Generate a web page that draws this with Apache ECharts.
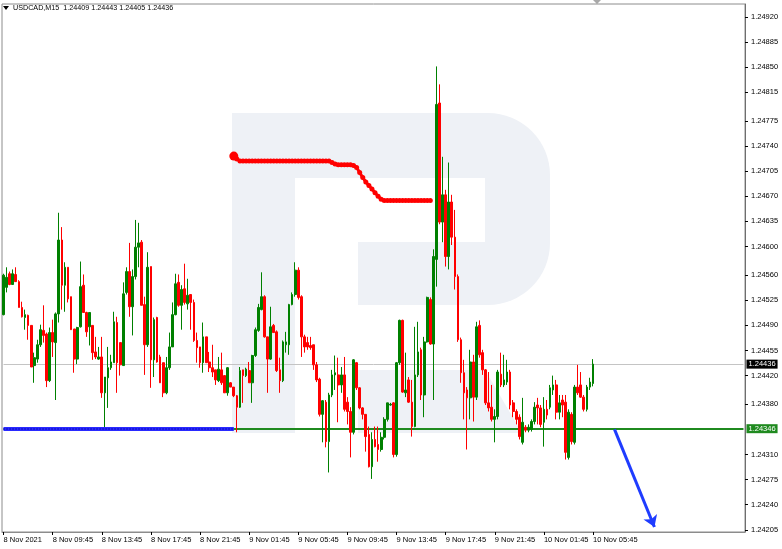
<!DOCTYPE html>
<html><head><meta charset="utf-8">
<script src="https://cdn.jsdelivr.net/npm/echarts@6/dist/echarts.min.js"></script>
<style>html,body{margin:0;padding:0;background:#fff}#c{width:782px;height:549px}</style>
</head><body><div id="c"></div>
<script>
// ---- data (USDCAD M15, 8 Nov 2021 05:45 .. 10 Nov 2021 05:45) ----
const opens = [1.24505,1.24543,1.24562,1.24547,1.24561,1.24551,1.24515,1.24501,1.24504,1.24490,1.24434,1.24443,1.24463,1.24483,1.24478,1.24413,1.24480,1.24466,1.24506,1.24609,
1.24546,1.24571,1.24530,1.24485,1.24443,1.24488,1.24546,1.24508,1.24488,1.24490,1.24453,1.24443,1.24446,1.24396,1.24417,1.24431,1.24438,1.24494,1.24466,1.24434,
1.24536,1.24565,1.24516,1.24558,1.24599,1.24606,1.24519,1.24463,1.24572,1.24442,1.24501,1.24446,1.24438,1.24396,1.24431,1.24460,1.24505,1.24550,1.24518,1.24541,
1.24520,1.24533,1.24522,1.24469,1.24460,1.24438,1.24474,1.24439,1.24431,1.24428,1.24413,1.24428,1.24420,1.24396,1.24410,1.24404,1.24392,1.24376,1.24428,1.24420,
1.24427,1.24410,1.24448,1.24483,1.24512,1.24530,1.24474,1.24443,1.24490,1.24481,1.24428,1.24413,1.24463,1.24463,1.24519,1.24533,1.24567,1.24530,1.24474,1.24466,
1.24462,1.24463,1.24435,1.24415,1.24366,1.24383,1.24328,1.24393,1.24421,1.24421,1.24407,1.24421,1.24383,1.24370,1.24341,1.24438,1.24403,1.24375,1.24366,1.24338,
1.24293,1.24331,1.24324,1.24317,1.24334,1.24359,1.24379,1.24382,1.24310,1.24438,1.24497,1.24396,1.24414,1.24383,1.24349,1.24421,1.24456,1.24393,1.24467,1.24526,
1.24464,1.24582,1.24800,1.24634,1.24672,1.24586,1.24662,1.24613,1.24558,1.24470,1.24424,1.24400,1.24389,1.24439,1.24390,1.24490,1.24452,1.24428,1.24382,1.24376,
1.24359,1.24363,1.24422,1.24407,1.24411,1.24425,1.24382,1.24370,1.24362,1.24327,1.24348,1.24344,1.24345,1.24356,1.24379,1.24375,1.24355,1.24373,1.24376,1.24400,
1.24407,1.24369,1.24386,1.24383,1.24306,1.24366,1.24327,1.24404,1.24407,1.24390,1.24373,1.24404,1.24409];
const closes = [1.24560,1.24557,1.24547,1.24562,1.24551,1.24515,1.24502,1.24505,1.24490,1.24432,1.24445,1.24463,1.24484,1.24476,1.24413,1.24480,1.24467,1.24506,1.24609,1.24546,
1.24571,1.24527,1.24484,1.24443,1.24487,1.24544,1.24508,1.24481,1.24508,1.24452,1.24446,1.24446,1.24396,1.24418,1.24431,1.24439,1.24495,1.24438,1.24435,1.24534,
1.24565,1.24516,1.24558,1.24599,1.24605,1.24518,1.24463,1.24571,1.24442,1.24498,1.24439,1.24410,1.24396,1.24431,1.24460,1.24505,1.24548,1.24518,1.24540,1.24522,
1.24532,1.24522,1.24469,1.24459,1.24438,1.24474,1.24438,1.24431,1.24425,1.24414,1.24429,1.24410,1.24396,1.24431,1.24404,1.24392,1.24376,1.24427,1.24420,1.24429,
1.24410,1.24448,1.24484,1.24515,1.24530,1.24474,1.24443,1.24488,1.24480,1.24427,1.24413,1.24467,1.24467,1.24519,1.24533,1.24567,1.24529,1.24474,1.24460,1.24460,
1.24459,1.24435,1.24414,1.24366,1.24385,1.24328,1.24393,1.24421,1.24424,1.24407,1.24421,1.24373,1.24370,1.24341,1.24442,1.24403,1.24375,1.24366,1.24335,1.24293,
1.24331,1.24321,1.24317,1.24334,1.24359,1.24382,1.24380,1.24310,1.24438,1.24497,1.24397,1.24400,1.24383,1.24349,1.24421,1.24453,1.24393,1.24467,1.24529,1.24464,
1.24586,1.24798,1.24634,1.24672,1.24586,1.24662,1.24613,1.24558,1.24470,1.24424,1.24396,1.24389,1.24439,1.24390,1.24488,1.24449,1.24428,1.24382,1.24375,1.24359,
1.24363,1.24425,1.24407,1.24414,1.24425,1.24379,1.24370,1.24359,1.24335,1.24355,1.24344,1.24348,1.24356,1.24376,1.24375,1.24352,1.24373,1.24365,1.24403,1.24407,
1.24369,1.24382,1.24379,1.24313,1.24369,1.24328,1.24404,1.24396,1.24390,1.24373,1.24404,1.24411,1.24436];
const highs = [1.24562,1.24571,1.24565,1.24568,1.24571,1.24553,1.24523,1.24512,1.24505,1.24490,1.24452,1.24470,1.24491,1.24518,1.24480,1.24487,1.24498,1.24508,1.24647,1.24627,
1.24578,1.24571,1.24530,1.24485,1.24488,1.24579,1.24561,1.24509,1.24508,1.24490,1.24474,1.24460,1.24474,1.24418,1.24460,1.24449,1.24509,1.24502,1.24466,1.24550,
1.24571,1.24605,1.24568,1.24637,1.24633,1.24609,1.24530,1.24592,1.24572,1.24501,1.24502,1.24449,1.24438,1.24446,1.24480,1.24522,1.24562,1.24561,1.24546,1.24576,
1.24555,1.24533,1.24526,1.24480,1.24460,1.24494,1.24474,1.24453,1.24463,1.24428,1.24446,1.24452,1.24420,1.24432,1.24411,1.24404,1.24393,1.24432,1.24428,1.24431,
1.24439,1.24449,1.24487,1.24520,1.24564,1.24532,1.24474,1.24516,1.24492,1.24483,1.24445,1.24469,1.24481,1.24520,1.24536,1.24578,1.24571,1.24532,1.24477,1.24474,
1.24474,1.24463,1.24439,1.24417,1.24386,1.24386,1.24396,1.24428,1.24448,1.24445,1.24432,1.24446,1.24390,1.24376,1.24443,1.24439,1.24404,1.24376,1.24366,1.24349,
1.24341,1.24349,1.24349,1.24341,1.24362,1.24382,1.24382,1.24383,1.24439,1.24498,1.24498,1.24452,1.24418,1.24414,1.24488,1.24495,1.24459,1.24474,1.24530,1.24529,
1.24596,1.24851,1.24826,1.24725,1.24679,1.24717,1.24672,1.24651,1.24561,1.24473,1.24442,1.24404,1.24456,1.24449,1.24495,1.24497,1.24456,1.24429,1.24425,1.24407,
1.24373,1.24428,1.24452,1.24449,1.24442,1.24428,1.24386,1.24373,1.24366,1.24389,1.24351,1.24352,1.24359,1.24383,1.24389,1.24379,1.24390,1.24386,1.24407,1.24420,
1.24414,1.24393,1.24393,1.24393,1.24373,1.24369,1.24407,1.24435,1.24425,1.24393,1.24407,1.24417,1.24443];
const lows = [1.24504,1.24536,1.24546,1.24547,1.24551,1.24515,1.24501,1.24484,1.24470,1.24432,1.24410,1.24438,1.24460,1.24466,1.24404,1.24411,1.24446,1.24386,1.24494,1.24512,
1.24509,1.24522,1.24484,1.24424,1.24436,1.24487,1.24508,1.24474,1.24462,1.24442,1.24443,1.24442,1.24389,1.24348,1.24375,1.24428,1.24438,1.24396,1.24420,1.24434,
1.24533,1.24502,1.24476,1.24554,1.24571,1.24518,1.24421,1.24460,1.24403,1.24418,1.24438,1.24410,1.24390,1.24394,1.24428,1.24460,1.24504,1.24516,1.24484,1.24519,
1.24512,1.24484,1.24467,1.24438,1.24431,1.24424,1.24438,1.24425,1.24418,1.24407,1.24411,1.24407,1.24396,1.24392,1.24404,1.24390,1.24341,1.24375,1.24382,1.24418,
1.24410,1.24382,1.24446,1.24481,1.24511,1.24473,1.24396,1.24442,1.24480,1.24425,1.24396,1.24411,1.24452,1.24449,1.24518,1.24530,1.24526,1.24446,1.24452,1.24456,
1.24456,1.24428,1.24411,1.24363,1.24327,1.24320,1.24285,1.24390,1.24400,1.24355,1.24396,1.24370,1.24352,1.24306,1.24338,1.24400,1.24373,1.24359,1.24314,1.24292,
1.24276,1.24320,1.24300,1.24314,1.24331,1.24356,1.24378,1.24306,1.24307,1.24435,1.24396,1.24390,1.24382,1.24335,1.24348,1.24418,1.24386,1.24362,1.24466,1.24463,
1.24386,1.24544,1.24631,1.24606,1.24572,1.24568,1.24602,1.24540,1.24467,1.24410,1.24359,1.24317,1.24359,1.24356,1.24386,1.24445,1.24421,1.24379,1.24370,1.24356,
1.24327,1.24359,1.24404,1.24404,1.24407,1.24373,1.24362,1.24352,1.24331,1.24324,1.24341,1.24341,1.24342,1.24352,1.24352,1.24348,1.24321,1.24359,1.24373,1.24393,
1.24359,1.24359,1.24362,1.24303,1.24303,1.24324,1.24324,1.24393,1.24389,1.24370,1.24370,1.24400,1.24405];

// red dotted indicator, starting at candle 75
const trendStart = 75;
const trendDots = [1.24726,1.24722,
1.24719,1.24719,1.24719,1.24719,1.24719,1.24719,1.24719,1.24719,1.24719,1.24719,
1.24719,1.24719,1.24719,1.24719,1.24719,1.24719,1.24719,1.24719,1.24719,1.24719,
1.24719,1.24719,1.24719,1.24719,1.24719,1.24719,1.24719,1.24719,1.24719,1.24719,
1.24717,1.24715,1.24714,1.24714,1.24714,1.24714,1.24714,1.24713,1.24710,
1.24703,1.24696,1.24690,1.24685,1.24680,1.24675,1.24670,1.24666,
1.24664,1.24664,1.24664,1.24664,1.24664,1.24664,1.24664,1.24664,1.24664,1.24664,1.24664,1.24664,1.24664,1.24664,1.24664,1.24664];

const supportLevel = 1.24346;
const supportDotsEnd = 75;
const lastPrice = 1.24436;
const arrowFrom = [199, 1.24345];
const arrowTo = [212, 1.24209];

const priceTicks = [1.24920,1.24885,1.24850,1.24815,1.24775,1.24740,1.24705,1.24670,1.24635,1.24600,1.24560,1.24525,1.24490,1.24455,1.24420,1.24380,1.24310,1.24275,1.24240,1.24205];
const timeTicks = ['8 Nov 2021','8 Nov 09:45','8 Nov 13:45','8 Nov 17:45','8 Nov 21:45','9 Nov 01:45','9 Nov 05:45','9 Nov 09:45','9 Nov 13:45','9 Nov 17:45','9 Nov 21:45','10 Nov 01:45','10 Nov 05:45'];
const tickEvery = 16;
const slotCount = 242;
const titleText = 'USDCAD,M15  1.24409 1.24443 1.24405 1.24436';

// ---- build ----
const categories = [];
for (let i = 0; i < slotCount; i++) categories.push(String(i));
const candleData = opens.map((o, i) => [o, closes[i], lows[i], highs[i]]);
const dotsData = categories.map((_, i) => (i >= trendStart && i < trendStart + trendDots.length) ? trendDots[i - trendStart] : null);
const showTick = (idx) => idx % tickEvery === 0 && idx / tickEvery < timeTicks.length;
const lastSlot = slotCount - 1;

const FONT = 'Liberation Sans';
const WM = '#eef1f6';
const boxLabel = (txt, bg) => ({show: true, position: 'end', distance: 3, formatter: txt, backgroundColor: bg, color: '#fff', padding: [1, 2, 0, 2], fontSize: 7.5, fontFamily: FONT});
const chart = echarts.init(document.getElementById('c'), null, {renderer: 'canvas'});
chart.setOption({
  animation: false,
  backgroundColor: '#ffffff',
  textStyle: {fontFamily: FONT},
  title: {text: titleText, left: 8, top: 0, textStyle: {fontSize: 7.2, fontWeight: 'normal', color: '#000', fontFamily: FONT}},
  graphic: [
    {type: 'polygon', z: -1, shape: {points: [[3,6],[9,6],[6,10]]}, style: {fill: '#000'}},
    {type: 'polygon', z: -1, shape: {points: [[593,0],[601,0],[597,4]]}, style: {fill: '#a8a8a8'}},
    // watermark logo
    {type: 'rect', z: -5, shape: {x: 232, y: 113, width: 318, height: 192, r: [0, 62, 62, 0]}, style: {fill: WM}},
    {type: 'rect', z: -4, shape: {x: 295, y: 178, width: 190, height: 64}, style: {fill: '#fff'}},
    {type: 'rect', z: -4, shape: {x: 295, y: 242, width: 63, height: 63}, style: {fill: '#fff'}},
    {type: 'rect', z: -3, shape: {x: 232, y: 113, width: 63, height: 320}, style: {fill: WM}},
    {type: 'polygon', z: -3, shape: {points: [[358,370],[485,370],[522,433],[358,433]]}, style: {fill: WM}}
  ],
  grid: {left: 2, right: 37, top: 4, bottom: 17, show: true, borderColor: '#8c8c8c', borderWidth: 1, backgroundColor: 'transparent'},
  xAxis: {
    type: 'category', data: categories, boundaryGap: true,
    axisLine: {show: true, lineStyle: {color: '#8c8c8c'}},
    axisTick: {show: true, alignWithLabel: true, interval: (i) => showTick(i), length: 3, lineStyle: {color: '#000'}},
    axisLabel: {interval: (i) => showTick(i), formatter: (v, i) => timeTicks[Math.round(i / tickEvery)] || '', align: 'left', margin: 4, fontSize: 7.5, color: '#000', fontFamily: FONT},
    splitLine: {show: false}
  },
  yAxis: {
    type: 'value', position: 'right', min: 1.24202, max: 1.24938, scale: true,
    axisLine: {show: true, lineStyle: {color: '#6e6e6e'}},
    axisTick: {show: true, customValues: priceTicks, length: 3, lineStyle: {color: '#000'}},
    axisLabel: {customValues: priceTicks, formatter: (v) => v.toFixed(5), margin: 6, fontSize: 7.5, color: '#000', fontFamily: FONT},
    splitLine: {show: false}
  },
  series: [
    {
      type: 'candlestick', data: candleData, barWidth: 2.2, z: 3,
      itemStyle: {color: '#008000', color0: '#ff0000', borderColor: '#008000', borderColor0: '#ff0000', borderWidth: 1},
      markLine: {
        silent: true, symbol: ['none', 'none'], animation: false, z: 1,
        data: [
          [{coord: [0, lastPrice], lineStyle: {color: '#c4c4c4', width: 1, type: 'solid'}, label: boxLabel(lastPrice.toFixed(5), '#000')}, {coord: [lastSlot, lastPrice]}],
          [{coord: [0, supportLevel], lineStyle: {color: '#1f8a1f', width: 2, type: 'solid'}, label: boxLabel(supportLevel.toFixed(5), '#1f8a1f')}, {coord: [lastSlot, supportLevel]}]
        ]
      }
    },
    {
      type: 'line', data: dotsData, z: 4, connectNulls: false,
      showSymbol: true, showAllSymbol: true, symbol: 'circle',
      symbolSize: (v, p) => p.dataIndex === trendStart ? 9 : 5,
      itemStyle: {color: '#ff0000'},
      lineStyle: {color: '#ff0000', width: 3},
      markLine: {
        silent: true, symbol: ['none', 'none'], animation: false,
        data: [
          [{coord: [0, supportLevel], lineStyle: {color: '#2a2aff', width: 4, type: 'solid'}, label: {show: false}}, {coord: [supportDotsEnd, supportLevel]}],
          [{coord: [0, supportLevel], lineStyle: {color: '#0000a8', width: 1.5, type: [1, 2]}, label: {show: false}}, {coord: [supportDotsEnd, supportLevel]}],
          [{coord: arrowFrom, symbol: 'none', lineStyle: {color: '#1f3cff', width: 3, type: 'solid'}, label: {show: false}}, {coord: arrowTo, symbol: 'arrow', symbolSize: 11}]
        ]
      }
    }
  ]
});
</script>
</body></html>
